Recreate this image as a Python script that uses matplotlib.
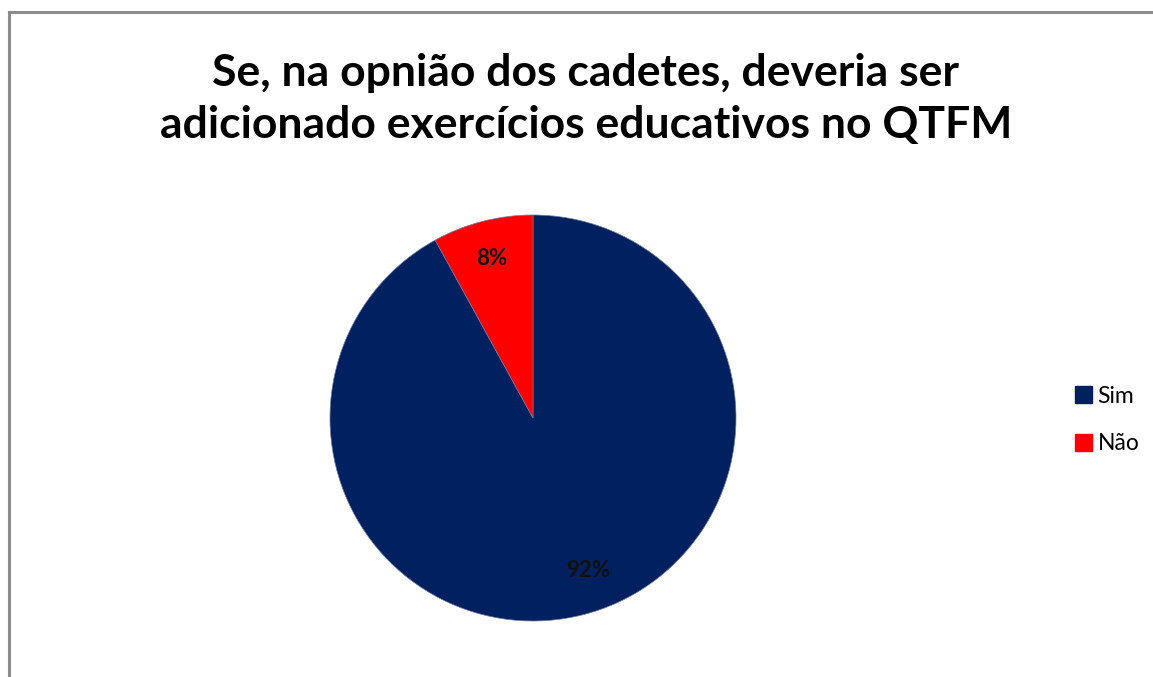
import matplotlib
matplotlib.use("Agg")
import matplotlib.pyplot as plt
from matplotlib.lines import Line2D
from matplotlib.patches import Patch

categories = ["Sim", "Não"]
values = [92, 8]
colors = ["#002060", "#FF0000"]
title = "Se, na opnião dos cadetes, deveria ser\nadicionado exercícios educativos no QTFM"

plt.rcParams['font.family'] = ['Lato', 'DejaVu Sans']

W, H = 1153, 677
fig = plt.figure(figsize=(W/100, H/100), dpi=100)
fig.patch.set_facecolor("white")

# frame (left and top visible)
fig.add_artist(Line2D([9/W, 9/W], [0, 1-12/H], color="#8c8c8c", lw=2.2, transform=fig.transFigure))
fig.add_artist(Line2D([9/W, 1], [1-12/H, 1-12/H], color="#8c8c8c", lw=2.2, transform=fig.transFigure))

cx, cy, r = 533, 418, 203
ax = fig.add_axes([(cx-r)/W, (H-cy-r)/H, 2*r/W, 2*r/H])
wedges, texts, autotexts = ax.pie(values, colors=colors, startangle=90, counterclock=False,
                                  autopct=lambda p: f"{p:.0f}%", pctdistance=0.81, radius=1,
                                  wedgeprops=dict(linewidth=0.5, edgecolor="#6d7aa0"),
                                  textprops=dict(fontsize=16, fontweight="bold", color="#111111"))
autotexts[0].set_position((0.27, -0.75))
ax.set_xlim(-1, 1)
ax.set_ylim(-1, 1)
ax.set_aspect("auto")
ax.axis("off")

fig.text(586/W, 1-99/H, title, ha="center", va="center", fontsize=32, fontweight="bold",
         color="#000000", linespacing=1.38)

handles = [Patch(facecolor=c, edgecolor=c) for c in colors]
fig.legend(handles, categories, loc="center left", bbox_to_anchor=(1054/W, 1-420/H),
           frameon=False, fontsize=16.5, handlelength=0.75, handleheight=0.75,
           handletextpad=0.25, labelspacing=1.15)

fig.savefig("out.png", dpi=100)
